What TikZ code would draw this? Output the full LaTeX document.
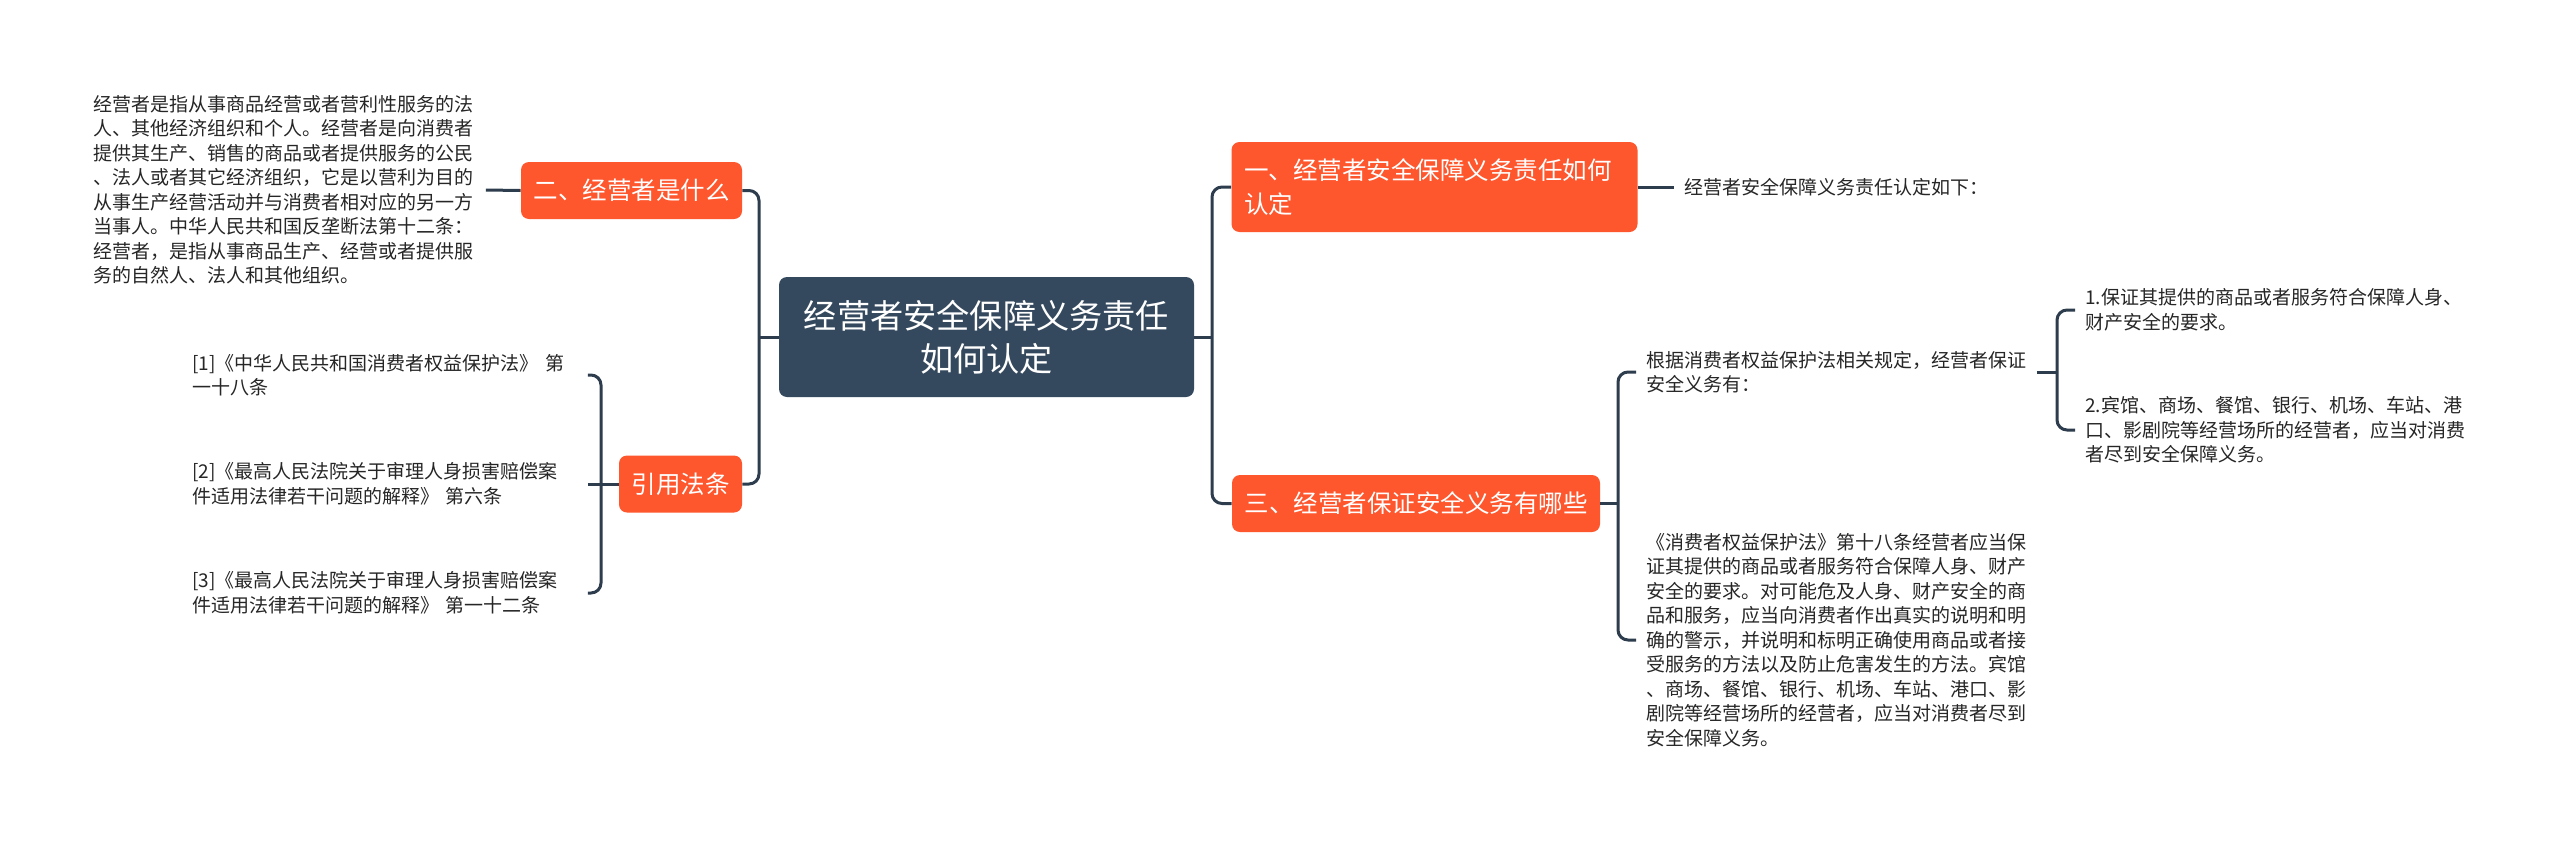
\documentclass[tikz,border=0pt]{standalone}
\usepackage{fontspec}
\setmainfont{Noto Sans CJK SC}
\definecolor{hubfill}{HTML}{35495E}
\definecolor{tagfill}{HTML}{FE562D}
\definecolor{connc}{HTML}{2D3D4E}
\begin{document}
\begin{tikzpicture}[x=0.5pt,y=-0.5pt,
  conn/.style={draw=connc,line width=1.5pt,rounded corners=5pt},
  topic/.style={fill=tagfill,text=white,rounded corners=4pt,inner xsep=6.25pt,minimum height=28.5pt,font=\fontsize{12.25}{17}\selectfont},
  note/.style={anchor=west,align=left,inner xsep=5pt,inner ysep=0pt,text=black!85,font=\fontsize{9.5}{12.25}\selectfont}]
\useasboundingbox (0,0) rectangle (2560,841);
\fill[white] (0,0) rectangle (2560,841);
\node[fill=hubfill,text=white,rounded corners=4pt,align=center,minimum width=207.5pt,minimum height=60pt,font=\fontsize{16.6}{21.5}\selectfont] (root) at (986.5,337) {经营者安全保障义务责任\\如何认定};
% left side
\node[topic] (er) at (631.5,190.5) {二、经营者是什么};
\node[topic] (yin) at (680.5,484) {引用法条};
\node[note,text width=191pt] (lead) at (83,190) {经营者是指从事商品经营或者营利性服务的法\\人、其他经济组织和个人。经营者是向消费者\\提供其生产、销售的商品或者提供服务的公民\\、法人或者其它经济组织，它是以营利为目的\\从事生产经营活动并与消费者相对应的另一方\\当事人。中华人民共和国反垄断法第十二条：\\经营者，是指从事商品生产、经营或者提供服\\务的自然人、法人和其他组织。};
\node[note,text width=192.5pt] (ref1) at (182,375) {[1]《中华人民共和国消费者权益保护法》 第\\一十八条};
\node[note,text width=192.5pt] (ref2) at (182,484) {[2]《最高人民法院关于审理人身损害赔偿案\\件适用法律若干问题的解释》 第六条};
\node[note,text width=192.5pt] (ref3) at (182,593) {[3]《最高人民法院关于审理人身损害赔偿案\\件适用法律若干问题的解释》 第一十二条};
% right side
\node[topic,align=left,text width=190.5pt,minimum height=45pt] (yi) at (1434.5,187) {一、经营者安全保障义务责任如何\\认定};
\node[topic] (san) at (1416,503.5) {三、经营者保证安全义务有哪些};
\node[note] (summ) at (1674,187) {经营者安全保障义务责任认定如下：};
\node[note,text width=190pt] (gen) at (1636,372) {根据消费者权益保护法相关规定，经营者保证\\安全义务有：};
\node[note,text width=191pt] (long) at (1636,640) {《消费者权益保护法》第十八条经营者应当保\\证其提供的商品或者服务符合保障人身、财产\\安全的要求。对可能危及人身、财产安全的商\\品和服务，应当向消费者作出真实的说明和明\\确的警示，并说明和标明正确使用商品或者接\\受服务的方法以及防止危害发生的方法。宾馆\\、商场、餐馆、银行、机场、车站、港口、影\\剧院等经营场所的经营者，应当对消费者尽到\\安全保障义务。};
\node[note,text width=192pt] (s1) at (2075,310) {1.保证其提供的商品或者服务符合保障人身、\\财产安全的要求。};
\node[note,text width=192pt] (s2) at (2075,430) {2.宾馆、商场、餐馆、银行、机场、车站、港\\口、影剧院等经营场所的经营者，应当对消费\\者尽到安全保障义务。};
% connectors
\coordinate (hubL) at (759,337);
\coordinate (hubR) at (1212,337);
\coordinate (hubC) at (601,484);
\coordinate (hubS) at (1618,503.5);
\coordinate (hubG) at (2057,372);
\draw[conn] (root.west) -- (hubL);
\draw[conn] (er.east) -| (hubL) |- (yin.east);
\draw[conn] (root.east) -- (hubR);
\draw[conn] (yi.west) -| (hubR) |- (san.west);
\draw[conn] (er.west) -- (lead.east);
\draw[conn] (ref1.east) -| (hubC) |- (ref3.east);
\draw[conn] (ref2.east) -- (yin.west);
\draw[conn] (yi.east) -- (summ.west);
\draw[conn] (san.east) -- (hubS);
\draw[conn] (gen.west) -| (hubS) |- (long.west);
\draw[conn] (gen.east) -- (hubG);
\draw[conn] (s1.west) -| (hubG) |- (s2.west);
\end{tikzpicture}
\end{document}
